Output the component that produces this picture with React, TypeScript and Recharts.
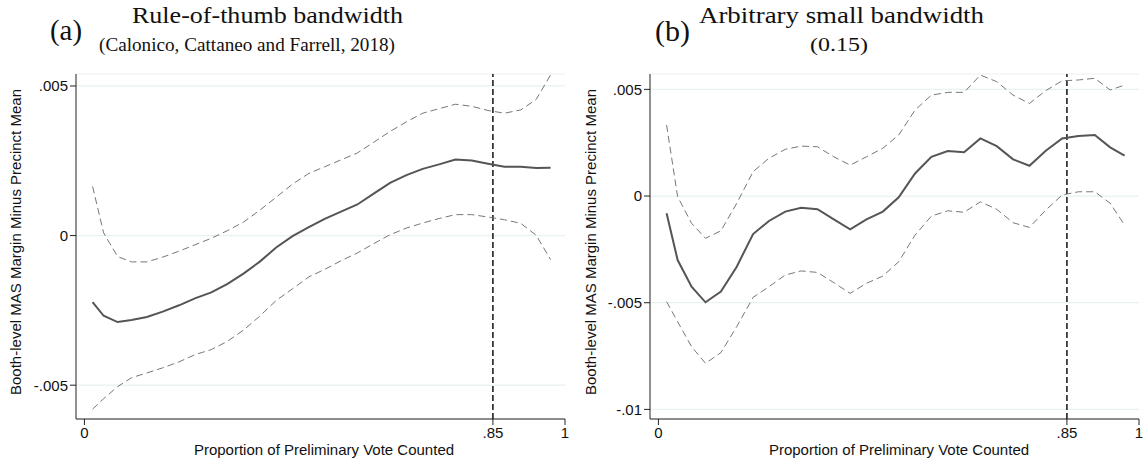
import { LineChart, Line, XAxis, YAxis, CartesianGrid, ReferenceLine } from "recharts";

// shared evaluation grid (share of preliminary vote counted)
const xGrid = [
  0.017, 0.04, 0.069, 0.098, 0.13, 0.163, 0.197, 0.23, 0.264, 0.297,
  0.331, 0.365, 0.399, 0.433, 0.467, 0.5, 0.534, 0.568, 0.602, 0.636,
  0.67, 0.704, 0.738, 0.772, 0.806, 0.84, 0.874, 0.908, 0.94, 0.97,
];

// (a) rule-of-thumb bandwidth
const estA = [
  -0.00222, -0.00268, -0.00289, -0.00282, -0.00272, -0.00254, -0.00233, -0.0021, -0.0019, -0.00162,
  -0.00127, -0.00087, -0.0004, -0.00002, 0.00028, 0.00056, 0.0008, 0.00104, 0.0014, 0.00176,
  0.00202, 0.00223, 0.00238, 0.00254, 0.00251, 0.0024, 0.0023, 0.0023, 0.00226, 0.00227,
];
const upperA = [
  0.00164, 0.00009, -0.0007, -0.00088, -0.00088, -0.00072, -0.00052, -0.00031, -0.00009, 0.00016,
  0.00045, 0.00085, 0.00128, 0.00172, 0.00208, 0.0023, 0.00253, 0.00276, 0.00312, 0.00348,
  0.0038, 0.00409, 0.00424, 0.00439, 0.00432, 0.00418, 0.00409, 0.0042, 0.00455, 0.00537,
];
const lowerA = [
  -0.0058, -0.00545, -0.00505, -0.00475, -0.00459, -0.00442, -0.00422, -0.00398, -0.00381, -0.00354,
  -0.00316, -0.00269, -0.00217, -0.00178, -0.00138, -0.00113, -0.00084, -0.00058, -0.00027, 0.00003,
  0.00025, 0.00042, 0.00057, 0.0007, 0.0007, 0.00062, 0.00053, 0.00041, 0.00001, -0.0008,
];

// (b) arbitrary small bandwidth (0.15)
const estB = [
  -0.00081, -0.003, -0.00425, -0.00498, -0.00448, -0.00331, -0.00178, -0.00117, -0.00073, -0.00055,
  -0.00062, -0.00109, -0.00156, -0.00109, -0.00073, -0.00006, 0.00106, 0.00184, 0.00211, 0.00205,
  0.0027, 0.00234, 0.00172, 0.00142, 0.00212, 0.0027, 0.00281, 0.00286, 0.00228, 0.00189,
];
const upperB = [
  0.00333, -0.00003, -0.00128, -0.00198, -0.00163, -0.00034, 0.00114, 0.00177, 0.00219, 0.00234,
  0.00231, 0.00184, 0.00145, 0.00184, 0.00224, 0.00286, 0.00403, 0.00473, 0.00486, 0.00486,
  0.00567, 0.00536, 0.00473, 0.00434, 0.00494, 0.0054, 0.00544, 0.00552, 0.00497, 0.0052,
];
const lowerB = [
  -0.00495, -0.00589, -0.00706, -0.00784, -0.00734, -0.00612, -0.00475, -0.00425, -0.0037, -0.00351,
  -0.00358, -0.00406, -0.00456, -0.00409, -0.00375, -0.00308, -0.00183, -0.00094, -0.00069, -0.00076,
  -0.00027, -0.00062, -0.00125, -0.00147, -0.00066, 0.00005, 0.0002, 0.0002, -0.00034, -0.00136,
];

const xTicks = [0, 0.85, 1];
const yTicksA = [-0.005, 0, 0.005];
const yTicksB = [-0.01, -0.005, 0, 0.005];

const CUTOFF = 0.85;
const SANS = "'Liberation Sans', Arial, Helvetica, sans-serif";
const SERIF = "'Liberation Serif', 'Times New Roman', serif";

// Stata-style labels: drop the leading zero
function fmt(v: number): string {
  if (v === 0) return "0";
  if (v === 1) return "1";
  const s = String(v);
  return s.replace(/^(-?)0\./, "$1.");
}

function buildRows(est: number[], lo: number[], hi: number[]) {
  return xGrid.map((x, i) => ({ x, est: est[i], lo: lo[i], hi: hi[i] }));
}

interface PanelProps {
  left: number;
  axisWidth: number;
  rows: ReturnType<typeof buildRows>;
  yDomain: [number, number];
  yTicks: number[];
}

function Panel({ left, axisWidth, rows, yDomain, yTicks }: PanelProps) {
  const tickStyle = { fontFamily: SANS, fontSize: 15, fill: "#111" };
  return (
    <div style={{ position: "absolute", left, top: 0 }}>
      <LineChart
        width={573}
        height={462}
        data={rows}
        margin={{ top: 74, right: 573 - axisWidth - 489, bottom: 0, left: 0 }}
      >
        <CartesianGrid vertical={false} stroke="#e9f1f3" strokeWidth={1.2} />
        <XAxis
          type="number"
          dataKey="x"
          domain={[-0.0175, 1]}
          ticks={xTicks}
          tickFormatter={fmt}
          allowDataOverflow
          height={43}
          tick={tickStyle}
          stroke="#222"
          tickLine={{ stroke: "#222" }}
        />
        <YAxis
          type="number"
          domain={yDomain}
          ticks={yTicks}
          tickFormatter={fmt}
          allowDataOverflow
          width={axisWidth}
          tick={tickStyle}
          stroke="#222"
          tickLine={{ stroke: "#222" }}
        />
        <ReferenceLine x={CUTOFF} stroke="#111" strokeWidth={1.5} strokeDasharray="6 3" />
        <Line
          type="linear"
          dataKey="hi"
          stroke="#777"
          strokeWidth={1}
          strokeDasharray="7 4"
          dot={false}
          isAnimationActive={false}
        />
        <Line
          type="linear"
          dataKey="lo"
          stroke="#777"
          strokeWidth={1}
          strokeDasharray="7 4"
          dot={false}
          isAnimationActive={false}
        />
        <Line
          type="linear"
          dataKey="est"
          stroke="#555"
          strokeWidth={2}
          dot={false}
          isAnimationActive={false}
        />
      </LineChart>
    </div>
  );
}

export default function App() {
  const yTitle = "Booth-level MAS Margin Minus Precinct Mean";
  const xTitle = "Proportion of Preliminary Vote Counted";
  return (
    <div style={{ position: "absolute", left: 0, top: 0, width: 1146, height: 462, background: "#fff" }}>
      <Panel
        left={0}
        axisWidth={76}
        rows={buildRows(estA, lowerA, upperA)}
        yDomain={[-0.00613, 0.0054]}
        yTicks={yTicksA}
      />
      <Panel
        left={573}
        axisWidth={77}
        rows={buildRows(estB, lowerB, upperB)}
        yDomain={[-0.01045, 0.00572]}
        yTicks={yTicksB}
      />
      <svg
        width={1146}
        height={462}
        style={{ position: "absolute", left: 0, top: 0, pointerEvents: "none" }}
      >
        {/* panel titles */}
        <g fontFamily={SERIF} fill="#111">
          <text x={50} y={40} fontSize={29} textLength={32} lengthAdjust="spacingAndGlyphs">(a)</text>
          <text x={132} y={23} fontSize={24} textLength={271} lengthAdjust="spacingAndGlyphs">
            Rule-of-thumb bandwidth
          </text>
          <text x={99} y={51} fontSize={19} textLength={296} lengthAdjust="spacingAndGlyphs">
            (Calonico, Cattaneo and Farrell, 2018)
          </text>
          <text x={655} y={41} fontSize={29} textLength={35} lengthAdjust="spacingAndGlyphs">(b)</text>
          <text x={699} y={23} fontSize={24} textLength={285} lengthAdjust="spacingAndGlyphs">
            Arbitrary small bandwidth
          </text>
          <text x={810} y={51} fontSize={19} textLength={58} lengthAdjust="spacingAndGlyphs">(0.15)</text>
        </g>
        {/* axis titles */}
        <g fontFamily={SANS} fontSize={15} fill="#111" textAnchor="middle">
          <text x={21} y={242} transform="rotate(-90 21 242)">{yTitle}</text>
          <text x={595.5} y={242} transform="rotate(-90 595.5 242)">{yTitle}</text>
          <text x={324} y={455}>{xTitle}</text>
          <text x={899} y={455}>{xTitle}</text>
        </g>
      </svg>
    </div>
  );
}
